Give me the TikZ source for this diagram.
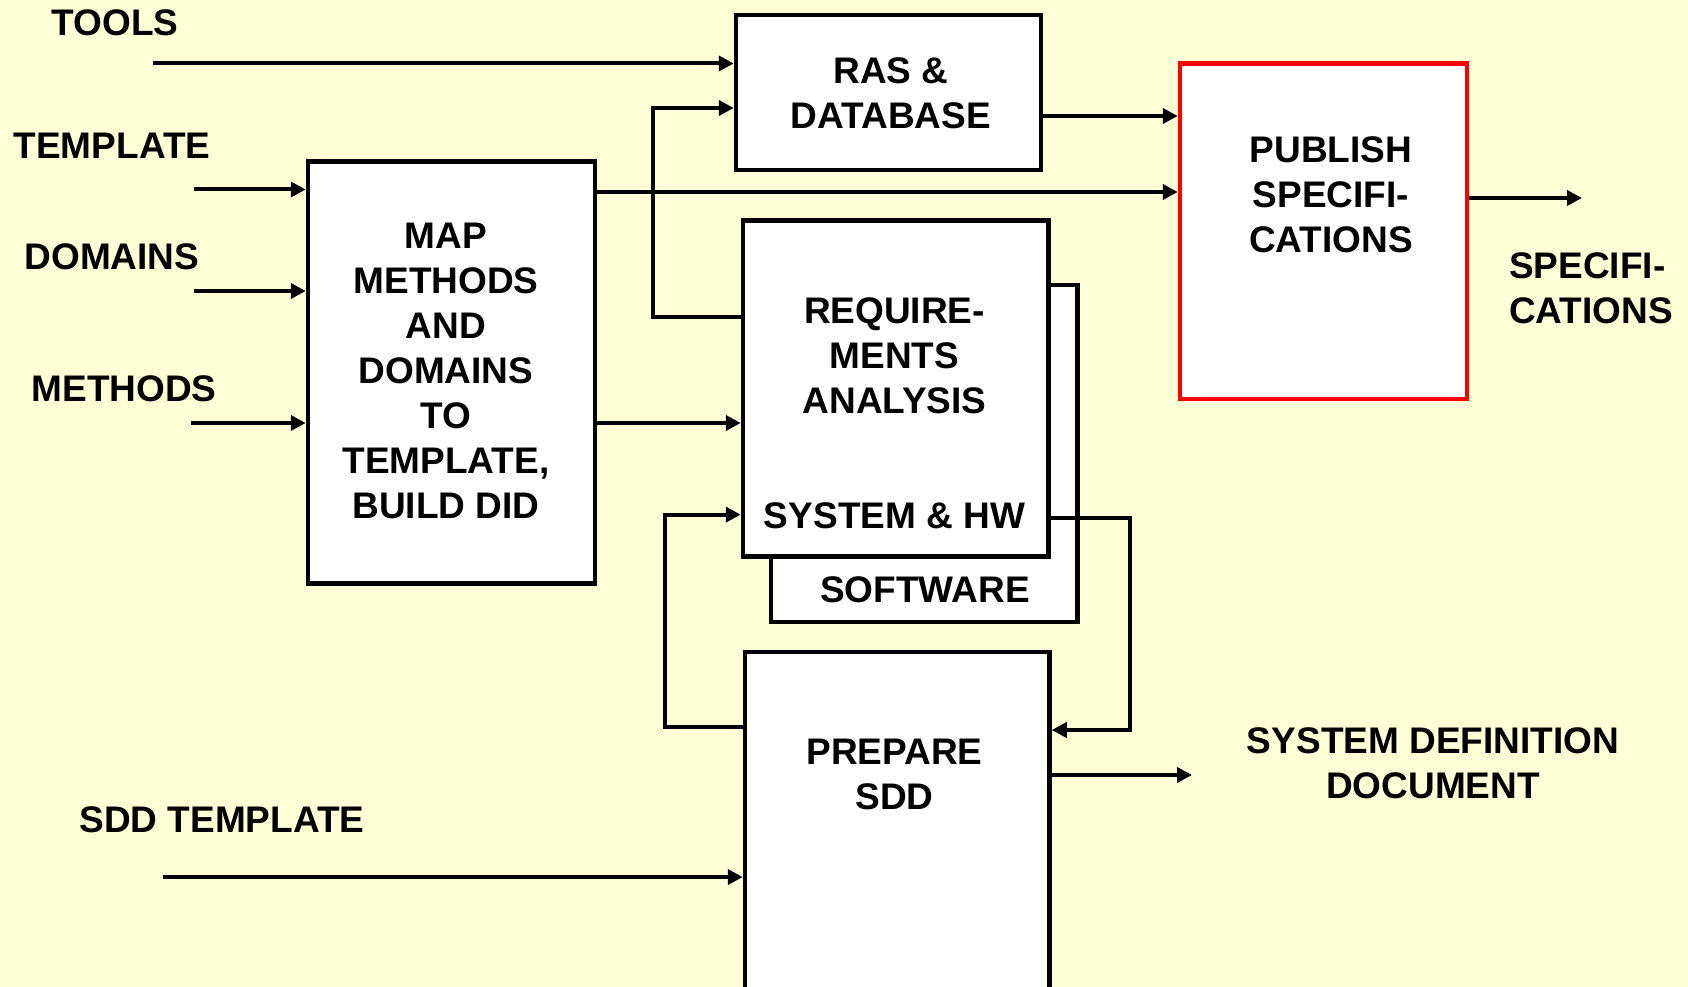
\documentclass[tikz,border=0pt]{standalone}
\usepackage{fontspec}
\setmainfont{Liberation Sans}
\usetikzlibrary{arrows.meta,calc}
\definecolor{paper}{HTML}{FFFFD7}
\definecolor{pubred}{HTML}{FF0000}
\begin{document}
\begin{tikzpicture}[x=1pt,y=-1pt,
  lbl/.style={font=\fontsize{37}{45}\selectfont\bfseries, inner sep=0pt, align=center},
  box/.style={draw=black, line width=4.5pt, fill=white, inner sep=0pt, anchor=north west},
  arr/.style={line width=4pt, -{Triangle[length=15pt,width=15pt]}},
  wire/.style={line width=4pt}]
\fill[paper] (0,0) rectangle (1688,987);
\useasboundingbox (0,0) rectangle (1688,987);
\clip (0,0) rectangle (1688,987);

% process boxes (positions given at the outer edge of the frame)
\node[box, minimum width=287pt, minimum height=422pt] (map) at (305.75,159.25) {};
\node[box, minimum width=305pt, minimum height=155pt] (ras) at (733.75,12.75) {};
\node[box, draw=pubred, minimum width=287pt, minimum height=335.5pt] (pub) at (1177.75,61.25) {};
\node[box, minimum width=306.5pt, minimum height=337pt] (reqb) at (768.75,282.75) {};
\node[box, minimum width=305.5pt, minimum height=336pt] (reqf) at (740.75,218.45) {};
\node[box, minimum width=304.5pt, minimum height=380pt] (prep) at (742.75,649.75) {};

% texts inside the boxes
\node[lbl] (maptxt) at (446,370.5) {MAP\\METHODS\\AND\\DOMAINS\\TO\\TEMPLATE,\\BUILD DID};
\node[lbl] (rastxt) at (891,93.5) {RAS \&\\DATABASE};
\node[lbl] (pubtxt) at (1331,194.5) {PUBLISH\\SPECIFI-\\CATIONS};
\node[lbl] (reqtxt) at (894.5,356) {REQUIRE-\\MENTS\\ANALYSIS};
\node[lbl] (syshw) at (894.5,515.6) {SYSTEM \& HW};
\node[lbl] (sw) at (925,590) {SOFTWARE};
\node[lbl] (preptxt) at (894.5,774) {PREPARE\\SDD};

% external inputs and outputs
\node[lbl] (tools) at (115,23) {TOOLS};
\node[lbl] (template) at (112,146) {TEMPLATE};
\node[lbl] (domains) at (112,257) {DOMAINS};
\node[lbl] (methods) at (124,389) {METHODS};
\node[lbl] (sddt) at (222,820) {SDD TEMPLATE};
\node[lbl, anchor=west, align=left] (specs) at (1509,288.5) {SPECIFI-\\CATIONS};
\node[lbl] (sdd) at (1433,763) {SYSTEM DEFINITION\\DOCUMENT};

% free ends and bend points
\coordinate (toolsin) at (153,63.5);
\coordinate (templin) at (194,189.5);
\coordinate (domin) at (194,291);
\coordinate (methin) at (190.5,423);
\coordinate (sddin) at (162.5,877);
\coordinate (specout) at (1582,198);
\coordinate (sddout) at (1192,775);
\coordinate (upL) at (653,316.5);
\coordinate (upT) at (653,108);
\coordinate (fbB) at (665,726.6);
\coordinate (fbT) at (665,514.6);
\coordinate (dnT) at (1130,518);
\coordinate (dnB) at (1130,730);
\coordinate (ymp) at (0,192);
\coordinate (yrp) at (0,116);
\coordinate (ymr) at (0,423);

% connectors
\draw[arr] (toolsin) -- (toolsin -| ras.west);
\draw[arr] (templin) -- (templin -| map.west);
\draw[arr] (domin) -- (domin -| map.west);
\draw[arr] (methin) -- (methin -| map.west);
\draw[arr] (sddin) -- (sddin -| prep.west);
\draw[arr] (map.east |- ymp) -- (pub.west |- ymp);
\draw[arr] (ras.east |- yrp) -- (pub.west |- yrp);
\draw[arr] (map.east |- ymr) -- (reqf.west |- ymr);
\draw[arr] (reqf.west |- upL) -- (upL) -- (upT) -- (ras.west |- upT);
\draw[arr] (pub.east |- specout) -- (specout);
\draw[arr] (prep.west |- fbB) -- (fbB) -- (fbT) -- (reqf.west |- fbT);
\draw[arr] (reqf.east |- dnT) -- (dnT) -- (dnB) -- (prep.east |- dnB);
\draw[arr] (prep.east |- sddout) -- (sddout);
\end{tikzpicture}
\end{document}
